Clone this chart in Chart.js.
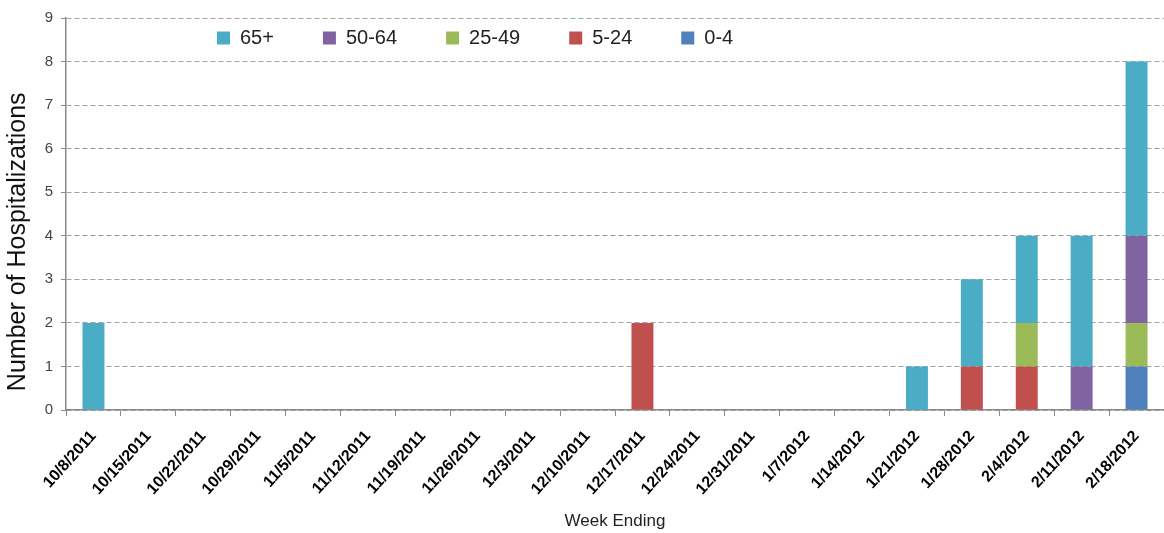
<!DOCTYPE html>
<html>
<head>
<meta charset="utf-8">
<script src="https://cdn.jsdelivr.net/npm/chart.js@4"></script>
<style>
  body { margin: 0; background: #fff; }
  #wrap { width: 1164px; height: 533px; }
</style>
</head>
<body>
<div id="wrap"><canvas id="chart"></canvas></div>
<script>
// Weekly hospitalizations by age group
const weekLabels = ['10/8/2011', '10/15/2011', '10/22/2011', '10/29/2011', '11/5/2011', '11/12/2011',
    '11/19/2011', '11/26/2011', '12/3/2011', '12/10/2011', '12/17/2011', '12/24/2011', '12/31/2011',
    '1/7/2012', '1/14/2012', '1/21/2012', '1/28/2012', '2/4/2012', '2/11/2012', '2/18/2012'];

const age0to4   = [0, 0, 0, 0, 0, 0, 0, 0, 0, 0, 0, 0, 0, 0, 0, 0, 0, 0, 0, 1];
const age5to24  = [0, 0, 0, 0, 0, 0, 0, 0, 0, 0, 2, 0, 0, 0, 0, 0, 1, 1, 0, 0];
const age25to49 = [0, 0, 0, 0, 0, 0, 0, 0, 0, 0, 0, 0, 0, 0, 0, 0, 0, 1, 0, 1];
const age50to64 = [0, 0, 0, 0, 0, 0, 0, 0, 0, 0, 0, 0, 0, 0, 0, 0, 0, 0, 1, 2];
const age65plus = [2, 0, 0, 0, 0, 0, 0, 0, 0, 0, 0, 0, 0, 0, 0, 1, 2, 2, 3, 4];

const yTicks = [0, 1, 2, 3, 4, 5, 6, 7, 8, 9];

const legendPad = 49;

// puts the legend inside the plot, like the original
const legendInside = {
    id: 'legendInside',
    beforeUpdate(chart) {
        const lg = chart.legend;
        if (lg && !lg._patched) {
            const fit = lg.fit;
            lg.fit = function () { fit.call(this); this.height = 0; };
            lg._patched = true;
        }
    },
    afterLayout(chart) {
        const lg = chart.legend;
        lg.left = 217 - legendPad;
        lg.top = 40 - 12 - legendPad;
        lg.bottom = 80;
        lg.right = chart.width;
    }
};

function bar(label, data, color) {
    return {
        label: label,
        data: data,
        backgroundColor: color,
        borderWidth: 0,
        barPercentage: 0.4,
        categoryPercentage: 1
    };
}

new Chart(document.getElementById('chart'), {
    type: 'bar',
    data: {
        labels: weekLabels,
        datasets: [
            bar('0-4', age0to4, '#4F81BD'),
            bar('5-24', age5to24, '#C0504D'),
            bar('25-49', age25to49, '#9BBB59'),
            bar('50-64', age50to64, '#8064A2'),
            bar('65+', age65plus, '#4BACC6')
        ]
    },
    options: {
        responsive: true,
        maintainAspectRatio: false,
        animation: false,
        layout: { padding: { top: 18, right: 0, left: 0, bottom: 0 } },
        plugins: {
            legend: {
                position: 'top',
                align: 'start',
                reverse: true,
                labels: {
                    boxWidth: 13,
                    boxHeight: 13,
                    padding: legendPad,
                    color: '#222',
                    font: { family: '"Liberation Sans", sans-serif', size: 20 }
                }
            },
            title: { display: false },
            tooltip: { enabled: false }
        },
        scales: {
            x: {
                stacked: true,
                afterFit: s => { s.height = 123; },
                grid: {
                    offset: true,
                    drawOnChartArea: false,
                    tickLength: 6,
                    color: '#8a8a8a'
                },
                border: { color: '#8a8a8a', width: 1.5 },
                ticks: {
                    maxRotation: 48,
                    minRotation: 48,
                    autoSkip: false,
                    padding: 11,
                    color: '#000',
                    font: { family: '"Liberation Sans", sans-serif', size: 16, weight: 'bold' }
                },
                title: {
                    display: true,
                    text: 'Week Ending',
                    color: '#222',
                    padding: { top: 4, bottom: 1 },
                    font: { family: '"Liberation Sans", sans-serif', size: 17 }
                }
            },
            y: {
                stacked: true,
                min: 0,
                max: 9,
                afterFit: s => { s.width = 66; },
                afterBuildTicks: s => { s.ticks = yTicks.map(v => ({ value: v })); },
                grid: {
                    color: '#a0a0a0',
                    tickLength: 5,
                    tickColor: '#8a8a8a'
                },
                border: { color: '#8a8a8a', width: 1.5, dash: [5, 3] },
                ticks: {
                    padding: 8,
                    color: '#444',
                    font: { family: '"Liberation Sans", sans-serif', size: 15 }
                },
                title: {
                    display: true,
                    text: 'Number of Hospitalizations        ',
                    color: '#111',
                    padding: { top: 3, bottom: 4 },
                    font: { family: '"Liberation Sans", sans-serif', size: 25 }
                }
            }
        }
    },
    plugins: [legendInside]
});
</script>
</body>
</html>
